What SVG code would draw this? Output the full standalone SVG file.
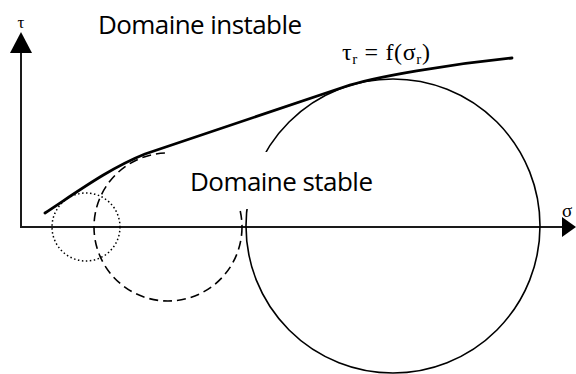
<svg xmlns="http://www.w3.org/2000/svg" width="576" height="374" viewBox="0 0 576 374">
<style>
.axis{stroke:#1a1a1a;stroke-width:2;fill:none}
.head{fill:#000}
.env{stroke:#000;stroke-width:2.8;fill:none;stroke-linecap:round}
.circ{stroke:#000;stroke-width:1.6;fill:none}
.dash{stroke-dasharray:9 5}
.dot{stroke-dasharray:1.5 2.5;stroke-width:1.5}
.lbl{font-family:"Open Sans","Liberation Sans",sans-serif;font-size:26px;fill:#000}
.math{font-family:"Liberation Serif","DejaVu Serif",serif;fill:#000}
</style>
<rect width="576" height="374" fill="#fff"/>
<g id="axes">
<line class="axis" x1="21" y1="228" x2="21" y2="50"/>
<polygon class="head" points="21,32 10,53 32,53"/>
<line class="axis" x1="20" y1="227" x2="565" y2="227"/>
<polygon class="head" points="576,227 562,217 562,237"/>
<text class="math" x="21" y="28" font-size="17" text-anchor="middle">τ</text>
<text class="math" x="562" y="217" font-size="19">σ</text>
</g>
<g id="circles">
<circle id="c1" class="circ dot" cx="86" cy="227" r="34"/>
<circle id="c2" class="circ dash" cx="168" cy="227" r="74"/>
<circle id="c3" class="circ" cx="393" cy="226" r="147"/>
</g>
<rect id="stable-bg" x="169" y="152" width="210" height="57" fill="#fff"/>
<g id="connectors">
<path id="envelope" class="env" d="M45,213 C80,190 110,168 145,154 L344,87 C374,76.5 452,64 512,58"/>
</g>
<g id="labels">
<text id="instable" class="lbl" x="98" y="34" textLength="204">Domaine instable</text>
<text id="stable" class="lbl" x="190" y="191" textLength="183">Domaine stable</text>
<text id="formula" class="math" x="342" y="60" font-size="24" textLength="88">τ<tspan font-size="15" dy="4">r</tspan><tspan dy="-4"> = f(σ</tspan><tspan font-size="15" dy="4">r</tspan><tspan dy="-4">)</tspan></text>
</g>
</svg>
